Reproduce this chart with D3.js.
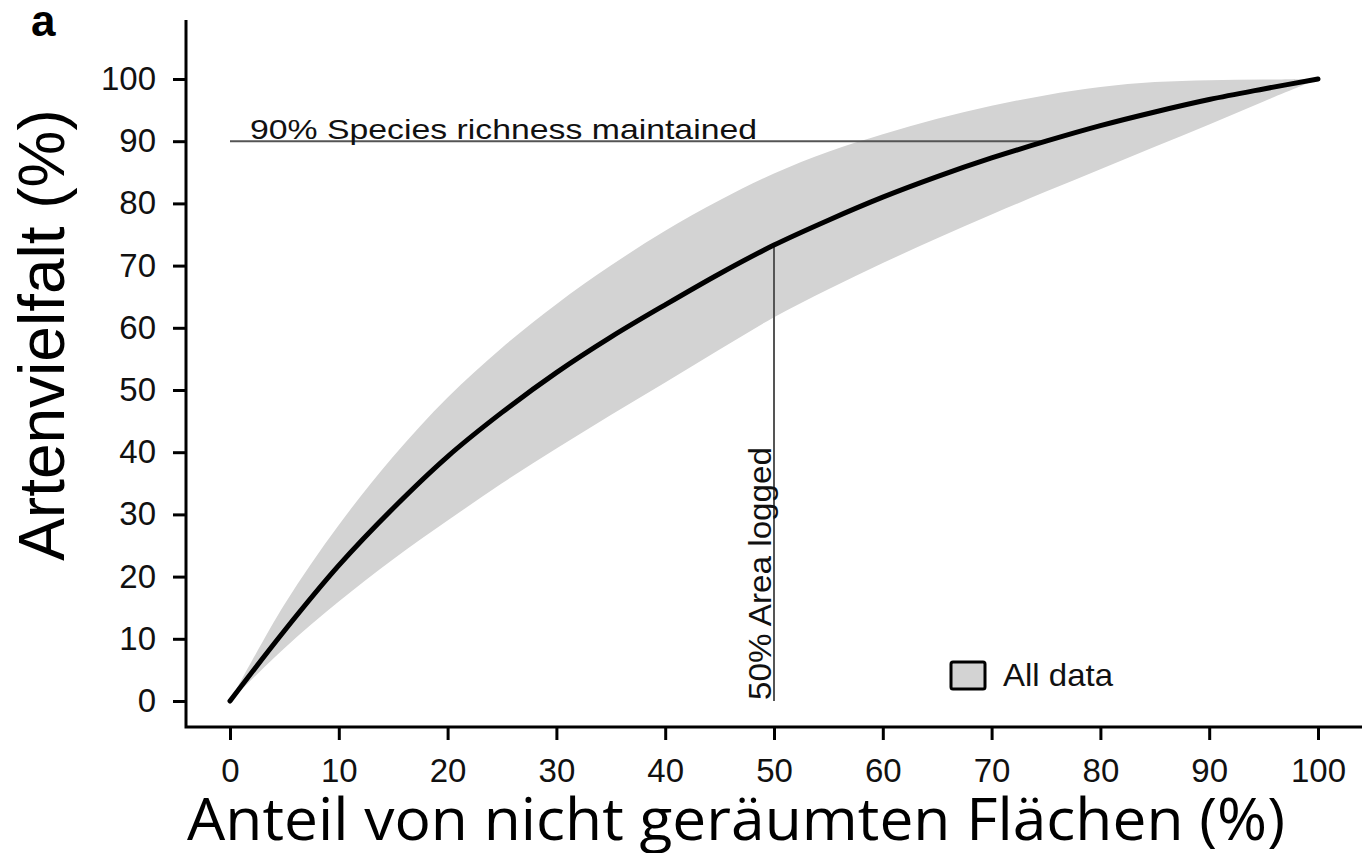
<!DOCTYPE html>
<html>
<head>
<meta charset="utf-8">
<script src="https://cdn.jsdelivr.net/npm/d3@7"></script>
<style>
  body { margin: 0; background: #fff; }
  svg { display: block; }
</style>
</head>
<body>
<svg id="chart"></svg>
<script>
// data
const xVals     = [0, 5, 10, 15, 20, 25, 30, 35, 40, 45, 50, 55, 60, 65, 70, 75, 80, 85, 90, 95, 100];
const meanVals  = [0, 11.3, 21.8, 31.0, 39.3, 46.4, 52.8, 58.5, 63.7, 68.7, 73.3, 77.3, 81.0, 84.3, 87.3, 90.0, 92.5, 94.7, 96.7, 98.4, 100];
const upperVals = [0, 15.5, 28.3, 39.3, 48.8, 56.8, 63.8, 70.0, 75.6, 80.5, 84.8, 88.3, 91.1, 93.6, 95.7, 97.4, 98.7, 99.5, 99.8, 99.9, 100];
const lowerVals = [0, 8.5, 16.0, 22.8, 29.0, 35.0, 40.6, 46.0, 51.2, 56.5, 61.7, 66.2, 70.4, 74.4, 78.2, 81.9, 85.5, 89.1, 92.7, 96.4, 100];
const xTicks = [0, 10, 20, 30, 40, 50, 60, 70, 80, 90, 100];
const yTicks = [0, 10, 20, 30, 40, 50, 60, 70, 80, 90, 100];
const richnessLine = [[0, 90], [74.5, 90]];
const loggedLine = [[50, 0], [50, 73.3]];

const width = 1365, height = 853;
const svg = d3.select("#chart").attr("width", width).attr("height", height);

// plot box (axes are offset from the data region, R style)
const axisLeft = 186, axisBottom = 727, axisTop = 20, axisRight = 1362;

const x = d3.scaleLinear().domain([0, 100]).range([230, 1318]);
const y = d3.scaleLinear().domain([0, 100]).range([701, 79]);

const rows = xVals.map((v, i) => ({x: v, m: meanVals[i], hi: upperVals[i], lo: lowerVals[i]}));

// band
const band = d3.area()
    .x(d => x(d.x))
    .y0(d => y(d.lo))
    .y1(d => y(d.hi))
    .curve(d3.curveCatmullRom);

svg.append("path")
    .datum(rows)
    .attr("fill", "#d3d3d3")
    .attr("d", band);

// reference lines
const refLine = d3.line().x(d => x(d[0])).y(d => y(d[1]));
[richnessLine, loggedLine].forEach(l => {
    svg.append("path")
        .datum(l)
        .attr("fill", "none")
        .attr("stroke", "#555")
        .attr("stroke-width", 2)
        .attr("d", refLine);
});

// mean curve
svg.append("path")
    .datum(rows)
    .attr("fill", "none")
    .attr("stroke", "#000")
    .attr("stroke-width", 5)
    .attr("stroke-linecap", "round")
    .attr("d", d3.line().x(d => x(d.x)).y(d => y(d.m)).curve(d3.curveCatmullRom));

// axes
const font = "'Liberation Sans', Arial, Helvetica, sans-serif";

const gx = svg.append("g")
    .attr("transform", `translate(0,${axisBottom})`)
    .call(d3.axisBottom(x).tickValues(xTicks).tickSize(13).tickPadding(19).tickSizeOuter(0));
const gy = svg.append("g")
    .attr("transform", `translate(${axisLeft},0)`)
    .call(d3.axisLeft(y).tickValues(yTicks).tickSize(13).tickPadding(17).tickSizeOuter(0));

[gx, gy].forEach(g => {
    g.select(".domain").remove();
    g.selectAll(".tick line").attr("stroke", "#000").attr("stroke-width", 3);
    g.selectAll(".tick text")
        .attr("fill", "#111")
        .style("font-family", font)
        .style("font-size", "33px");
});

svg.append("path")
    .attr("d", `M${axisLeft},${axisTop}V${axisBottom}H${axisRight}`)
    .attr("fill", "none")
    .attr("stroke", "#000")
    .attr("stroke-width", 3);

// annotations
svg.append("text")
    .attr("x", 250).attr("y", 139)
    .attr("textLength", 507).attr("lengthAdjust", "spacingAndGlyphs")
    .style("font-family", font).style("font-size", "28px").attr("fill", "#111")
    .text("90% Species richness maintained");

svg.append("text")
    .attr("transform", `translate(771,700) rotate(-90)`)
    .attr("textLength", 253).attr("lengthAdjust", "spacingAndGlyphs")
    .style("font-family", font).style("font-size", "32px").attr("fill", "#111")
    .text("50% Area logged");

// legend
svg.append("rect")
    .attr("x", 951).attr("y", 662).attr("width", 34).attr("height", 27)
    .attr("rx", 2)
    .attr("fill", "#d3d3d3").attr("stroke", "#000").attr("stroke-width", 3);
svg.append("text")
    .attr("x", 1003).attr("y", 686)
    .attr("textLength", 110).attr("lengthAdjust", "spacingAndGlyphs")
    .style("font-family", font).style("font-size", "32px").attr("fill", "#111")
    .text("All data");

// panel label
svg.append("text")
    .attr("x", 31).attr("y", 36)
    .style("font-family", font).style("font-size", "44px").style("font-weight", "bold")
    .text("a");

// axis titles
svg.append("text")
    .attr("transform", `translate(64,335) rotate(-90)`)
    .attr("text-anchor", "middle")
    .style("font-family", font).style("font-size", "64px")
    .text("Artenvielfalt (%)");

svg.append("text")
    .attr("x", 187).attr("y", 840)
    .attr("textLength", 1098).attr("lengthAdjust", "spacingAndGlyphs")
    .style("font-family", "'Open Sans', 'Noto Sans', sans-serif").style("font-size", "58px")
    .text("Anteil von nicht geräumten Flächen (%)");
</script>
</body>
</html>
